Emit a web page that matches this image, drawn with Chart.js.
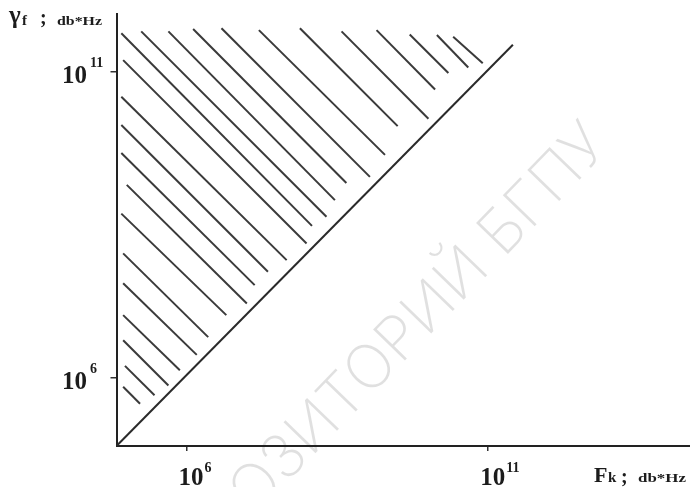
<!DOCTYPE html>
<html>
<head>
<meta charset="utf-8">
<title>Fk / γf</title>
<script src="https://cdn.jsdelivr.net/npm/chart.js@4"></script>
<style>
  html, body { margin: 0; padding: 0; background: #fff; }
  canvas { display: block; }
</style>
</head>
<body>
<canvas id="myChart" width="690" height="487"></canvas>
<script>
const ctx = document.getElementById('myChart');

// tick marks on both log axes
const tickValues = [1e6, 1e11];
const tickExponents = ['6', '11'];

// boundary line γf = Fk (log10 exponents)
const boundaryX = [4.84, 11.41];
const boundaryY = [4.88, 11.44];

// hatch strokes above the boundary, log10 exponents of each end
const hatchStartX = [4.92, 5.25, 5.70, 6.11, 6.58, 7.20, 7.88, 8.57, 9.15, 9.70, 10.15, 10.42,
                     4.95, 4.92, 4.92, 4.92, 5.01, 4.92, 4.95, 4.95, 4.95, 4.95, 4.98, 4.95];
const hatchStartY = [11.63, 11.66, 11.66, 11.70, 11.71, 11.68, 11.71, 11.66, 11.68, 11.61, 11.60, 11.57,
                     11.19, 10.59, 10.13, 9.67, 9.15, 8.68, 8.03, 7.54, 7.02, 6.61, 6.19, 5.85];
const hatchEndX   = [8.08, 8.32, 8.46, 8.65, 9.04, 9.29, 9.50, 10.01, 10.12, 10.34, 10.67, 10.91,
                     7.99, 7.66, 7.35, 7.13, 7.00, 6.66, 6.36, 6.17, 5.89, 5.70, 5.47, 5.23];
const hatchEndY   = [8.48, 8.63, 8.90, 9.18, 9.28, 9.64, 10.11, 10.23, 10.71, 10.98, 11.07, 11.14,
                     8.19, 7.92, 7.73, 7.51, 7.21, 7.02, 6.66, 6.37, 6.12, 5.87, 5.71, 5.57];

const xMinExp = 4.84, xMaxExp = 14.345;
const yMinExp = 4.88, yMaxExp = 11.944;

const SERIF = '"Liberation Serif", "DejaVu Serif", serif';
const INK = '#1c1c1c';

const datasets = [];
for (let i = 0; i < hatchStartX.length; i++) {
  datasets.push({
    data: [
      { x: 10 ** hatchStartX[i], y: 10 ** hatchStartY[i] },
      { x: 10 ** hatchEndX[i], y: 10 ** hatchEndY[i] }
    ],
    showLine: true,
    borderColor: '#3a3a3a',
    borderWidth: 2,
    pointRadius: 0
  });
}
datasets.push({
  data: boundaryX.map((v, i) => ({ x: 10 ** v, y: 10 ** boundaryY[i] })),
  showLine: true,
  borderColor: '#2a2a2a',
  borderWidth: 2,
  pointRadius: 0
});

// draws text squeezed/stretched to a given width
function fitText(c, text, x, y, width) {
  const w = c.measureText(text).width;
  c.save();
  c.translate(x, y);
  c.scale(width / w, 1);
  c.fillText(text, 0, 0);
  c.restore();
}

const paperPlugin = {
  id: 'paper',
  beforeDraw(chart) {
    const c = chart.ctx;
    c.save();
    c.fillStyle = '#fff';
    c.fillRect(0, 0, chart.width, chart.height);
    // faint repository watermark
    c.translate(378, 362);
    c.rotate(-46 * Math.PI / 180);
    c.font = '200 61px Inter, "DejaVu Sans", sans-serif';
    c.fillStyle = 'rgba(0,0,0,0.12)';
    c.textAlign = 'center';
    c.textBaseline = 'middle';
    c.fillText('РЕПОЗИТОРИЙ БГПУ', 0, 0);
    c.restore();
  },
  afterDraw(chart) {
    const c = chart.ctx;
    const xs = chart.scales.x, ys = chart.scales.y;
    c.save();
    c.fillStyle = INK;
    c.textBaseline = 'alphabetic';

    // x tick labels
    tickValues.forEach((v, i) => {
      const px = xs.getPixelForValue(v);
      c.font = 'bold 25px ' + SERIF;
      c.textAlign = 'left';
      c.fillText('10', px - 8, 485);
      const w = c.measureText('10').width;
      c.font = 'bold 14px ' + SERIF;
      c.fillText(tickExponents[i], px - 8 + w + 1, 472);
    });

    // y tick labels
    tickValues.forEach((v, i) => {
      const py = ys.getPixelForValue(v);
      c.font = 'bold 25px ' + SERIF;
      c.textAlign = 'right';
      c.fillText('10', 87, py + 11);
      c.font = 'bold 14px ' + SERIF;
      c.textAlign = 'left';
      c.fillText(tickExponents[i], 90, py - 5);
    });

    // y axis title
    c.textAlign = 'left';
    c.font = 'bold 25px ' + SERIF;
    c.fillText('γ', 9, 23);
    c.font = 'bold 15px ' + SERIF;
    c.fillText('f', 22, 25);
    c.font = 'bold 20px ' + SERIF;
    c.fillText(';', 40, 24);
    c.font = 'bold 13px ' + SERIF;
    fitText(c, 'db*Hz', 57, 25, 45);

    // x axis title
    c.font = 'bold 22px ' + SERIF;
    c.fillText('F', 594, 482);
    c.font = 'bold 15px ' + SERIF;
    c.fillText('k', 608, 482);
    c.font = 'bold 20px ' + SERIF;
    c.fillText(';', 621, 483);
    c.font = 'bold 13px ' + SERIF;
    fitText(c, 'db*Hz', 638, 482, 48);
    c.restore();
  }
};

new Chart(ctx, {
  type: 'scatter',
  data: { datasets: datasets },
  plugins: [paperPlugin],
  options: {
    responsive: false,
    animation: false,
    devicePixelRatio: 1,
    layout: { autoPadding: false, padding: { top: 14, right: 0, left: 0, bottom: 0 } },
    plugins: { legend: { display: false }, tooltip: { enabled: false } },
    scales: {
      x: {
        type: 'logarithmic',
        min: 10 ** xMinExp,
        max: 10 ** xMaxExp,
        ticks: { display: false },
        grid: { display: true, drawOnChartArea: false, drawTicks: true, tickLength: 5, color: '#333', lineWidth: 1.5 },
        border: { display: true, color: '#222', width: 2 },
        afterBuildTicks: s => { s.ticks = tickValues.map(v => ({ value: v })); },
        afterFit: s => { s.height = 41; }
      },
      y: {
        type: 'logarithmic',
        min: 10 ** yMinExp,
        max: 10 ** yMaxExp,
        ticks: { display: false },
        grid: { display: true, drawOnChartArea: false, drawTicks: true, tickLength: 6, color: '#333', lineWidth: 1.5 },
        border: { display: true, color: '#222', width: 2 },
        afterBuildTicks: s => { s.ticks = tickValues.map(v => ({ value: v })); },
        afterFit: s => { s.width = 116.5; }
      }
    }
  }
});
</script>
</body>
</html>
